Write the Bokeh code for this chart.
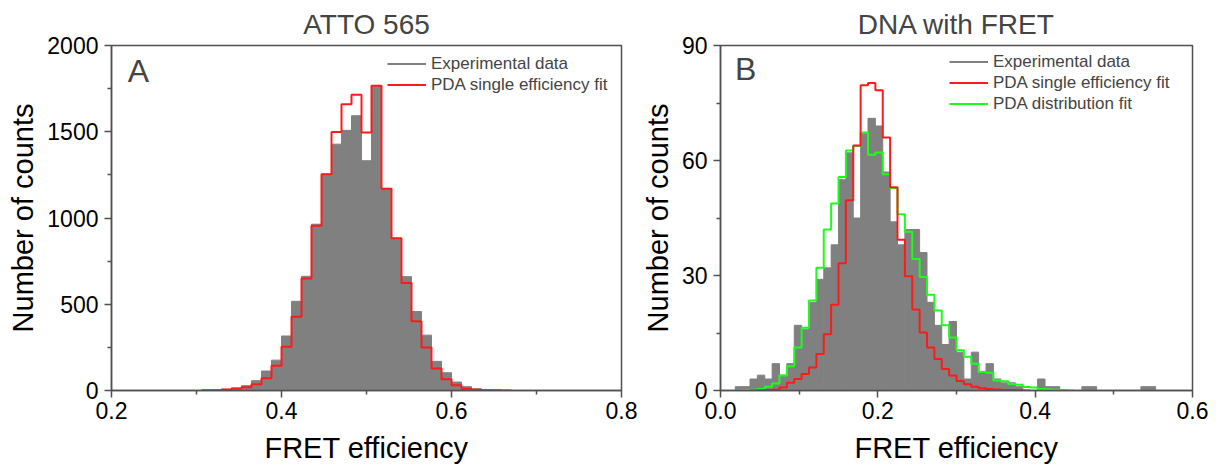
import numpy as np
from bokeh.plotting import figure
from bokeh.models import Legend, LegendItem, Label, FixedTicker, NumeralTickFormatter
from bokeh.layouts import row
from bokeh.embed import file_html
from bokeh.resources import INLINE

# ---------------- data ----------------
# Panel A: ATTO 565, 51 bins between 0.2 and 0.8
A_title = "ATTO 565"
A_range = (0.2, 0.8)
A_nbins = 51
A_exp = [0] * 10 + [3, 7, 14, 28, 57, 113, 176, 316, 517, 662, 964, 1254, 1428, 1508,
                    1593, 1332, 1765, 1169, 882, 660, 458, 321, 169, 103, 49, 22, 10, 4, 2] + [0] * 12
A_single = [0] * 9 + [1, 2, 6, 11, 19, 36, 71, 144, 254, 427, 650, 955, 1254, 1499, 1660,
                      1714, 1495, 1767, 1169, 882, 623, 401, 249, 128, 65, 30, 10, 4, 2, 1, 0.5] + [0] * 11

# Panel B: DNA with FRET, 64 bins between 0.0 and 0.6
B_title = "DNA with FRET"
B_range = (0.0, 0.6)
B_nbins = 64
B_exp = [0, 0, 1, 1, 3, 4, 3, 7, 4, 7, 17, 16, 23, 29, 32, 38, 55, 62, 45, 67, 71, 69,
         57, 44, 38, 42, 42, 36, 23, 17, 12, 18, 10, 3, 10, 5, 7, 3, 2, 2, 1, 0, 0, 3, 1, 1,
         0, 0, 0, 1, 1, 0, 0, 0, 0, 0, 0, 1, 1, 0, 0, 0, 0, 0]
B_single = [0, 0, 0, 0, 0, 0.05, 0.1, 0.2, 0.8, 2, 3, 4.3, 6, 9.5, 14.7, 22.4, 33.2, 49.6,
            63.9, 79.6, 80.2, 78.3, 66, 53, 39.3, 29.8, 21.1, 15.1, 11.2, 8.2, 5.6, 3.9, 2.5,
            1.6, 1.0, 0.6, 0.4, 0.25, 0.15, 0.1, 0.05] + [0] * 23
B_dist = [0, 0, 0, 0.1, 0.2, 0.4, 1.0, 1.8, 3.9, 6.3, 11.2, 16.4, 23.5, 32, 42, 48.8, 55.7,
          62.6, 63.8, 67.3, 61.5, 62.1, 56.4, 52.8, 46, 41.4, 34.3, 29.6, 25, 20.9, 17, 13.8,
          10.5, 8.8, 7, 4.8, 4.6, 2.6, 2.4, 1.7, 1.5, 0.9, 0.8, 0.4, 0.3, 0.2, 0.1] + [0] * 17

legend_exp = "Experimental data"
legend_single = "PDA single efficiency fit"
legend_dist = "PDA distribution fit"
y_label = "Number of counts"
x_label = "FRET efficiency"

A_xticks = [0.2, 0.4, 0.6, 0.8]
A_xminor = [0.3, 0.5, 0.7]
A_yticks = [0, 500, 1000, 1500, 2000]
A_yminor = [250, 750, 1250, 1750]
B_xticks = [0.0, 0.2, 0.4, 0.6]
B_xminor = [0.1, 0.3, 0.5]
B_yticks = [0, 30, 60, 90]
B_yminor = [15, 45, 75]

FONT = "Liberation Sans"
AX = "#505050"
GREY = "#808080"
RED = "#ff1a1a"
GREEN = "#1aff1a"
NAN = float("nan")


def style(p, xt, xm, yt, ym):
    p.xgrid.visible = False
    p.ygrid.visible = False
    p.outline_line_color = AX
    p.outline_line_width = 1.5
    p.background_fill_color = "white"
    p.border_fill_color = "white"
    p.xaxis.ticker = FixedTicker(ticks=xt, minor_ticks=xm)
    p.yaxis.ticker = FixedTicker(ticks=yt, minor_ticks=ym)
    p.xaxis.formatter = NumeralTickFormatter(format="0.0")
    for ax in (p.xaxis[0], p.yaxis[0]):
        ax.axis_line_color = AX
        ax.axis_line_width = 1.5
        ax.major_tick_line_color = AX
        ax.major_tick_line_width = 1.5
        ax.minor_tick_line_color = AX
        ax.minor_tick_line_width = 1.5
        ax.major_tick_in = 0
        ax.major_tick_out = 7
        ax.minor_tick_in = 0
        ax.minor_tick_out = 4
        ax.major_label_text_font = FONT
        ax.major_label_text_font_size = "23px"
        ax.major_label_text_color = "black"
        ax.axis_label_text_font = FONT
        ax.axis_label_text_font_size = "29px"
        ax.axis_label_text_font_style = "normal"
        ax.axis_label_text_color = "black"
    p.xaxis.major_label_standoff = 4
    p.yaxis.major_label_standoff = 6
    p.xaxis.axis_label_standoff = 10
    p.yaxis.axis_label_standoff = 5
    p.xaxis.axis_label = x_label
    p.yaxis.axis_label = y_label
    p.title.text_font = FONT
    p.title.text_font_size = "28px"
    p.title.text_font_style = "normal"
    p.title.align = "center"
    p.title.standoff = 12


def step_xy(edges, vals, i0, i1):
    xs = list(edges[i0:i1 + 1])
    ys = list(vals[i0:i1]) + [vals[i1 - 1]]
    return xs, ys


# ---------------- Panel A ----------------
A_edges = np.linspace(A_range[0], A_range[1], A_nbins + 1)
pA = figure(width=638, height=466, x_range=A_range, y_range=(0, 2000),
            output_backend="svg", toolbar_location=None, title=A_title,
            min_border_left=111, min_border_right=17, min_border_top=44, min_border_bottom=74)
style(pA, A_xticks, A_xminor, A_yticks, A_yminor)
pA.quad(left=A_edges[:-1], right=A_edges[1:], bottom=0, top=A_exp,
        fill_color=GREY, line_color=GREY, line_width=1)
ax_, ay_ = step_xy(A_edges, A_single, 9, 40)
rA1 = pA.step(x=ax_, y=ay_, mode="after", line_color=RED, line_width=2)
gA = pA.line(x=[NAN], y=[NAN], line_color=GREY, line_width=2)
legA = Legend(items=[LegendItem(label=legend_exp, renderers=[gA]),
                     LegendItem(label=legend_single, renderers=[rA1])],
              location=(276, 295))
pA.add_layout(Label(x=0.219, y=1958, text="A", text_font=FONT, text_font_size="32px",
                    text_baseline="top"))

# ---------------- Panel B ----------------
B_edges = np.linspace(B_range[0], B_range[1], B_nbins + 1)
pB = figure(width=590, height=466, x_range=B_range, y_range=(0, 90),
            output_backend="svg", toolbar_location=None, title=B_title,
            min_border_left=80, min_border_right=36, min_border_top=44, min_border_bottom=74)
style(pB, B_xticks, B_xminor, B_yticks, B_yminor)
pB.quad(left=B_edges[:-1], right=B_edges[1:], bottom=0, top=B_exp,
        fill_color=GREY, line_color=GREY, line_width=1)
gx, gy = step_xy(B_edges, B_dist, 2, 48)
rB2 = pB.step(x=gx, y=gy, mode="after", line_color=GREEN, line_width=2)
bx, by = step_xy(B_edges, B_single, 4, 42)
rB1 = pB.step(x=bx, y=by, mode="after", line_color=RED, line_width=2)
gB = pB.line(x=[NAN], y=[NAN], line_color=GREY, line_width=2)
legB = Legend(items=[LegendItem(label=legend_exp, renderers=[gB]),
                     LegendItem(label=legend_single, renderers=[rB1]),
                     LegendItem(label=legend_dist, renderers=[rB2])],
              location=(229, 276))
pB.add_layout(Label(x=0.0184, y=88.6, text="B", text_font=FONT, text_font_size="32px",
                    text_baseline="top"))

for leg, p in ((legA, pA), (legB, pB)):
    leg.border_line_color = None
    leg.background_fill_alpha = 0
    leg.label_text_font = FONT
    leg.label_text_font_size = "17px"
    leg.glyph_width = 39
    leg.glyph_height = 21
    leg.label_height = 21
    leg.label_standoff = 5
    leg.spacing = 0
    leg.padding = 4
    leg.margin = 0
    p.add_layout(leg)

layout = row(pA, pB)
open("out.html", "w").write(file_html(layout, INLINE))
